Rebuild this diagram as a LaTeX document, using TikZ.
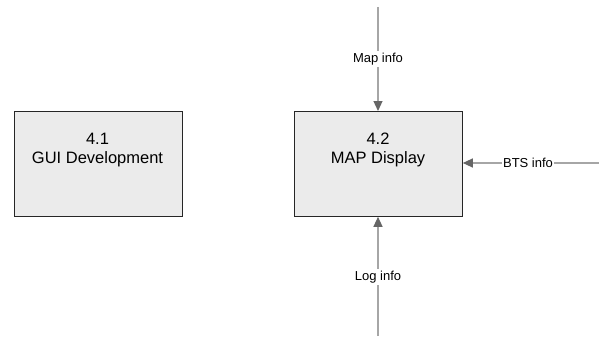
\documentclass[tikz,border=0pt]{standalone}
\usepackage{fontspec}
\setmainfont{Liberation Sans}
\usetikzlibrary{arrows.meta}
\definecolor{boxfill}{HTML}{EBEBEB}
\definecolor{flowline}{HTML}{A6A6A6}
\definecolor{flowtip}{HTML}{666666}
\begin{document}
\begin{tikzpicture}[x=1pt,y=-1pt,
  procbox/.style={draw=black!85,fill=boxfill,line width=0.8pt,minimum width=168pt,minimum height=105pt,inner sep=0pt,anchor=north west},
  flow/.style={draw=flowline,line width=1.2pt,-{Triangle[length=10pt,width=9pt,color=flowtip]}},
  flowlabel/.style={fill=white,inner sep=1.5pt,font=\fontsize{13}{15}\selectfont}]
\useasboundingbox (0,0) rectangle (599,337);
\node[procbox] (b1) at (14,111) {};
\node[font=\fontsize{16.5}{19}\selectfont,align=center] (t1) at (97.5,150) {4.1\\GUI Development};
\node[procbox] (b2) at (294,111) {};
\node[font=\fontsize{16.5}{19}\selectfont,align=center] (t2) at (378,150) {4.2\\MAP Display};
\coordinate (top) at (378,7);
\coordinate (bot) at (378,336);
\coordinate (rgt) at (599,163);
\draw[flow] (top) -- (b2.north -| top);
\draw[flow] (bot) -- (b2.south -| bot);
\draw[flow] (rgt) -- (b2.east |- rgt);
\node[flowlabel] (l1) at (378,59) {Map info};
\node[flowlabel] (l2) at (378,277) {Log info};
\node[flowlabel] (l3) at (528,163) {BTS info};
\end{tikzpicture}
\end{document}
